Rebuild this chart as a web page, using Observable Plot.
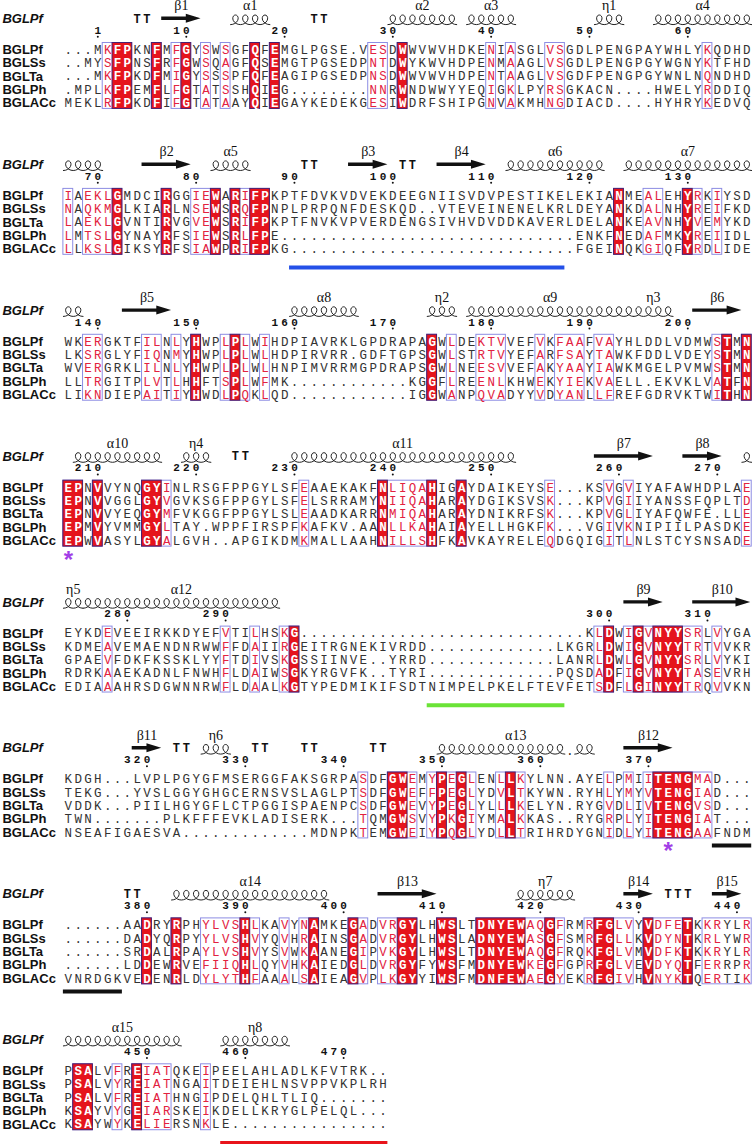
<!DOCTYPE html>
<html>
<head>
<meta charset="utf-8">
<script src="https://cdn.jsdelivr.net/npm/d3@7"></script>
<script src="https://cdn.jsdelivr.net/npm/@observablehq/plot@0.6"></script>
<style>
  html, body { margin: 0; padding: 0; background: #fff; }
  #chart svg { display: block; }
</style>
</head>
<body>
<div id="chart"></div>
<script>
// ---------------- DATA ----------------
const seqNames = ["BGLPf", "BGLSs", "BGLTa", "BGLPh", "BGLACc"];

const block1 = [
  "...MKFPKNFMFGYSWSGFQFEMGLPGSE.VESDWWVWVHDKENIASGLVSGDLPENGPAYWHLYKQDHD",
  "..MYSFPNSFRFGWSQAGFQSEMGTPGSEDPNTDWYKWVHDPENMAAGLVSGDLPENGPGYWGNYKTFHD",
  "...MKFPKDFMIGYSSSPFQFEAGIPGSEDPNSDWWVWVHDPENTAAGLVSGDFPENGPGYWNLNQNDHD",
  ".MPLKFPEMFLFGTATSSHQIEG........NNRWNDWWYYEQIGKLPYRSGKACN....HWELYRDDIQ",
  "MEKLRFPKDFIFGTATAAYQIEGAYKEDEKGESIWDRFSHIPGNVAKMHNGDIACD....HYHRYKEDVQ"
];
const block2 = [
  "IAEKLGMDCIRGGIEWARIFPKPTFDVKVDVEKDEEGNIISVDVPESTIKELEKIANMEALEHYRKIYSD",
  "NAQKMGLKIARLNSEWSRQFPNPLPRPQNFDESKQD..VTEVEINENELKRLDEYANKDALNHYREIFKD",
  "LAEKLGVNTIRVGVEWSRIFPKPTFNVKVPVERDENGSIVHVDVDDKAVERLDELANKEAVNHYVEMYKD",
  "LMTSLGYNAYRFSIEWSRLFPE..............................ENKFNEDAFMKYREIIDL",
  "LLKSLGIKSYRFSIAWPRIFPKG.............................FGEINQKGIQFYRDLIDE"
];
const block3 = [
  "WKERGKTFILNLYHWPLPLWIHDPIAVRKLGPDRAPAGWLDEKTVVEFVKFAAFVAYHLDDLVDMWSTMN",
  "LKSRGLYFIQNMYHWPLPLWLHDPIRVRR.GDFTGPSGWLSTRTVYEFARFSAYTAWKFDDLVDEYSTMN",
  "WVERGRKLILNLYHWPLPLWLHNPIMVRRMGPDRAPSGWLNEESVVEFAKYAAYIAWKMGELPVMWSTMN",
  "LLTRGITPLVTLHHFTSPLWFMK............KGGFLREENLKHWEKYIEKVAELL.EKVKLVATFN",
  "LIKNDIEPAITIYHWDLPQKLQD............IGGWANPQVADYYVDYANLLFREFGDRVKTWITHN"
];
const block4 = [
  "EPNVVYNQGYINLRSGFPPGYLSFEAAEKAKFNLIQAHIGAYDAIKEYSE...KSVGVIYAFAWHDPLAE",
  "EPNVVGGLGYVGVKSGFPPGYLSFELSRRAMYNIIQAHARAYDGIKSVSK...KPVGIIYANSSFQPLTD",
  "EPNVVYEQGYMFVKGGFPPGYLSLEAADKARRNMIQAHARAYDNIKRFSK...KPVGLIYAFQWFE.LLE",
  "EPMVYVMMGYLTAY.WPPFIRSPFKAFKV.AANLLKAHAIAYELLHGKFK...VGIVKNIPIILPASDKE",
  "EPWVASYLGYALGVH..APGIKDMKMALLAAHNILLSHFKAVKAYRELEQDGQIGITLNLSTCYSNSADE"
];
const block5 = [
  "EYKDEVEEIRKKDYEFVTILHSKG.............................KLDWIGVNYYSRLVYGA",
  "KDMEAVEMAENDNRWWFFDAIIRGEITRGNEKIVRDD.............LKGRLDWIGVNYYTRTVVKR",
  "GPAEVFDKFKSSKLYYFTDIVSKGSSIINVE..YRRD.............LANRLDWLGVNYYSRLVYKI",
  "RDRKAAEKADNLFNWHFLDAIWSGKYRGVFK..TYRI.............PQSDADFIGVNYYTASEVRH",
  "EDIAAAHRSDGWNNRWFLDAALKGTYPEDMIKIFSDTNIMPELPKELFTEVFETSDFLGINYYTRQVVKN"
];
const block6 = [
  "KDGH...LVPLPGYGFMSERGGFAKSGRPASDFGWEMYPEGLENLLKYLNN.AYELPMIITENGMAD...",
  "TEKG...YVSLGGYGHGCERNSVSLAGLPTSDFGWEFFPEGLYDVLTKYWN.RYHLYMYVTENGIAD...",
  "VDDK...PIILHGYGFLCTPGGISPAENPCSDFGWEVYPEGLYLLLKELYN.RYGVDLIVTENGVSD...",
  "TWN.......PLKFFFEVKLADISERK...TQMGWSVYPKGIYMALKKAS..RYGRPLYITENGIAT...",
  "NSEAFIGAESVA.............MDNPKTEMGWEIYPQGLYDLLTRIHRDYGNIDLYITENGAAFNDM"
];
const block7 = [
  "......AADRYRPHYLVSHLKAVYNAMKEGADVRGYLHWSLTDNYEWAQGFRMRFGLVYVDFETKKRYLR",
  "......DADYQRPYYLVSHVYQVHRAINSGADVRGYLHWSLADNYEWASGFSMRFGLLKVDYNTKRLYWR",
  "......SRDALRPAYLVSHVYSVWKAANEGIPVKGYLHWSLTDNYEWAQGFRQKFGLVMVDFKTKKRYLR",
  "......LDDEWRVEFIIQHLQYVHKAIEDGLDVRGYFYWSFMDNYEWKEGFGPRFGLVEVDYQTFERRPR",
  "VNRDGKVEDENRLDYLYTHFAAALSAIEAGVPLKGYYIWSFMDNFEWAEGYEKRFGIVHVNYKTQERTIK"
];
const block8 = [
  "PSALVFREIATQKEIPEELAHLADLKFVTRK..",
  "PSALVYREIATNGAITDEIEHLNSVPPVKPLRH",
  "PSALVFREIATHNGIPDELQHLTLIQ.......",
  "KSAYVYGEIARSKEIKDELLKRYGLPELQL...",
  "KSAYWYKELIERSNKLE................"
];

// conservation per column: R = strictly conserved (red box), f = similar (framed), . = none
const frame1 = "....fRR..R.fR.f.f..R.R.........ff.R........f.f...ff..............f....";
const frame2 = "f.fffR....R..ffR.RfRR...................................R..ff..Rf.f...";
const frame3 = "..ff....ff.f.R..fRf.f................R.f..fff...f.fff.ff..........fR.R";
const frame4 = "RR.R....RRf.............f.......RffffR..R........f.....f.f...........f";
const frame5 = "....f...........f..f..fR..............................fR.fRfRRRff.f...";
const frame6 = "..............................f..RRf.fRfRf..fRf........f.f.fRRRRff....";
const frame7 = "........R..R..ffffRf..f.fR...Rf.ffRR..RR..RRRRRffRf..fRRff.RfffR.fffff";
const frame8 = ".RR..f.Rfff...f..................";

// letters left black inside a framed region
const plainInFrame = [{block: 6, col: 68}, {block: 6, col: 69}];

// secondary structure of BGLPf (block index, first column, last column)
const helices = [
  {block: 0, start: 18, end: 21, label: "α1"},
  {block: 0, start: 34, end: 40, label: "α2"},
  {block: 0, start: 42, end: 46, label: "α3"},
  {block: 0, start: 55, end: 57, label: "η1"},
  {block: 0, start: 61, end: 70, label: "α4"},
  {block: 1, start: 1, end: 4, label: ""},
  {block: 1, start: 16, end: 19, label: "α5"},
  {block: 1, start: 46, end: 55, label: "α6"},
  {block: 1, start: 58, end: 70, label: "α7"},
  {block: 2, start: 1, end: 2, label: ""},
  {block: 2, start: 24, end: 30, label: "α8"},
  {block: 2, start: 38, end: 40, label: "η2"},
  {block: 2, start: 42, end: 58, label: "α9"},
  {block: 2, start: 59, end: 62, label: "η3"},
  {block: 3, start: 2, end: 10, label: "α10"},
  {block: 3, start: 13, end: 15, label: "η4"},
  {block: 3, start: 24, end: 46, label: "α11"},
  {block: 3, start: 70, end: 70, label: ""},
  {block: 4, start: 1, end: 2, label: "η5"},
  {block: 4, start: 3, end: 22, label: "α12"},
  {block: 5, start: 15, end: 17, label: "η6"},
  {block: 5, start: 39, end: 54, label: "α13"},
  {block: 6, start: 12, end: 27, label: "α14"},
  {block: 6, start: 47, end: 52, label: "η7"},
  {block: 7, start: 1, end: 12, label: "α15"},
  {block: 7, start: 17, end: 23, label: "η8"}
];
const strands = [
  {block: 0, start: 11, end: 14, label: "β1"},
  {block: 1, start: 9, end: 13, label: "β2"},
  {block: 1, start: 30, end: 33, label: "β3"},
  {block: 1, start: 39, end: 43, label: "β4"},
  {block: 2, start: 7, end: 11, label: "β5"},
  {block: 2, start: 65, end: 69, label: "β6"},
  {block: 3, start: 55, end: 60, label: "β7"},
  {block: 3, start: 64, end: 67, label: "β8"},
  {block: 4, start: 58, end: 61, label: "β9"},
  {block: 4, start: 65, end: 70, label: "β10"},
  {block: 5, start: 8, end: 10, label: "β11"},
  {block: 5, start: 58, end: 62, label: "β12"},
  {block: 6, start: 33, end: 38, label: "β13"},
  {block: 6, start: 58, end: 60, label: "β14"},
  {block: 6, start: 67, end: 69, label: "β15"}
];
const turns = [
  {block: 0, col: 8, text: "TT"},
  {block: 0, col: 26, text: "TT"},
  {block: 1, col: 25, text: "TT"},
  {block: 1, col: 35, text: "TT"},
  {block: 3, col: 18, text: "TT"},
  {block: 5, col: 12, text: "TT"},
  {block: 5, col: 20, text: "TT"},
  {block: 5, col: 25, text: "TT"},
  {block: 5, col: 32, text: "TT"},
  {block: 6, col: 7, text: "TT"},
  {block: 6, col: 62, text: "TTT"}
];
// insertion / region bars under the alignment
const insertions = [
  {block: 1, start: 24, end: 51, kind: "blue"},
  {block: 4, start: 38, end: 51, kind: "green"},
  {block: 5, start: 67, end: 70, kind: "black"},
  {block: 6, start: 1, end: 6, kind: "black"},
  {block: 7, start: 17, end: 33, kind: "red"}
];
// catalytic residues
const stars = [{block: 3, col: 1}, {block: 5, col: 62}];

// ---------------- LAYOUT / STYLE ----------------
const blockSeqs = [block1, block2, block3, block4, block5, block6, block7, block8];
const blockFrames = [frame1, frame2, frame3, frame4, frame5, frame6, frame7, frame8];

const ROW0 = 49.3, BLOCK_STEP = 145.9, ROW_STEP = 13.33;
const rowY = (b, r) => ROW0 + b * BLOCK_STEP + r * ROW_STEP;
const NAME_X = -5.7;          // in column units
const MONO = "'Liberation Mono', 'DejaVu Sans Mono', monospace";
const SANS = "'Liberation Sans', Arial, sans-serif";
const SERIF = "'Liberation Serif', 'Times New Roman', serif";
const INK = "#333333", RED_BG = "#e5141c", RED_TXT = "#e2223f", FRAME = "#8d8de3", RED_EDGE = "#4a2070";
const STAR = "#a23ee6";
const lineColor = {blue: "#2450e8", green: "#6be337", black: "#111111", red: "#e8141b"};

// cells
const plainCells = [], boldCells = [];
blockSeqs.forEach((rows, b) => {
  const fr = blockFrames[b];
  rows.forEach((s, r) => {
    [...s].forEach((ch, i) => {
      const c = i + 1, f = fr[i];
      const cell = {c, ch, y: rowY(b, r)};
      if (f === "R") boldCells.push(cell);
      else {
        const plain = plainInFrame.some(p => p.block === b && p.col === c);
        cell.color = (f === "f" && ch !== "." && !plain) ? RED_TXT : INK;
        plainCells.push(cell);
      }
    });
  });
});

function runs(str, test) {
  const out = []; let s = null;
  for (let i = 0; i <= str.length; i++) {
    const ok = i < str.length && test(str[i]);
    if (ok && s === null) s = i + 1;
    if (!ok && s !== null) { out.push([s, i]); s = null; }
  }
  return out;
}
const frameRects = [], redRects = [];
blockFrames.forEach((fr, b) => {
  const y1 = rowY(b, 0) - 6.8, y2 = rowY(b, 4) + 5.8;
  runs(fr, ch => ch !== ".").forEach(([s, e]) => frameRects.push({x1: s - 0.5, x2: e + 0.5, y1, y2}));
  runs(fr, ch => ch === "R").forEach(([s, e]) => redRects.push({x1: s - 0.5, x2: e + 0.5, y1, y2}));
});

const nameCells = blockSeqs.flatMap((rows, b) => rows.map((_, r) => ({x: NAME_X, y: rowY(b, r), text: seqNames[r]})));
const headers = blockSeqs.map((_, b) => ({x: NAME_X, y: rowY(b, 0) - 31, text: seqNames[0]}));

// residue numbering of BGLPf
const digits = [], numDots = [];
let resNo = 0;
blockSeqs.forEach((rows, b) => {
  [...rows[0]].forEach((ch, i) => {
    if (ch === ".") return;
    resNo++;
    if (resNo === 1 || resNo % 10 === 0) {
      const txt = String(resNo);
      [...txt].forEach((d, k) => digits.push({x: i + 1 - (txt.length - 1 - k), y: rowY(b, 0) - 19.6, d}));
      numDots.push({x: i + 1, y: rowY(b, 0) - 13});
    }
  });
});

// helix coils
const helixPts = [], helixGaps = [];
const A = 0.5, B = 4.8, STEPS = 18;
helices.forEach((h, i) => {
  const seq = blockSeqs[h.block][0];
  const yc = rowY(h.block, 0) - 30;
  let seg = 0;
  for (let c = h.start; c <= h.end; c++) {
    if (seq[c - 1] === ".") { helixGaps.push({x: c, y: yc + 2}); seg++; continue; }
    for (let k = 0; k <= STEPS; k++) {
      const t = k / STEPS;
      helixPts.push({x: c - 0.5 + t + A * Math.sin(2 * Math.PI * t), y: yc + B * Math.cos(2 * Math.PI * t), z: i + "-" + seg});
    }
  }
});

// strand arrows
const strandPts = [];
strands.forEach((s, i) => {
  const yA = rowY(s.block, 0) - 31;
  const x0 = s.start - 0.5, xt = Math.min(s.end + 0.5, 70.4), xh = xt - 1.5;
  strandPts.push(
    {z: i, x: x0, y1: yA - 1.7, y2: yA + 1.7},
    {z: i, x: xh, y1: yA - 1.7, y2: yA + 1.7},
    {z: i, x: xh, y1: yA - 4.5, y2: yA + 4.5},
    {z: i, x: xt, y1: yA, y2: yA}
  );
});

const ssLabels = [...helices, ...strands].filter(d => d.label)
  .map(d => ({x: (d.start + d.end) / 2, y: rowY(d.block, 0) - 44, text: d.label}));

const turnChars = [];
turns.forEach(t => [...t.text].forEach((ch, k) => turnChars.push({x: t.col + k, y: rowY(t.block, 0) - 31, ch})));

const insertionRules = insertions.map(d => ({
  x1: d.start - 0.5, x2: Math.min(d.end + 0.5, 70.6),
  y: rowY(d.block, 4) + (d.kind === "black" ? 13 : 18.5),
  color: lineColor[d.kind]
}));
const starMarks = stars.map(s => ({x: s.col, y: rowY(s.block, 4) + 19}));

// ---------------- PLOT ----------------
const chart = Plot.plot({
  width: 752,
  height: 1144,
  margin: 0,
  style: {background: "#fff"},
  x: {domain: [1, 70], range: [67.8, 746.3], axis: null},
  y: {domain: [0, 1144], range: [0, 1144], axis: null},
  color: {type: "identity"},
  marks: [
    Plot.rect(frameRects, {x1: "x1", x2: "x2", y1: "y1", y2: "y2", fill: "none", stroke: FRAME, strokeWidth: 1}),
    Plot.rect(redRects, {x1: "x1", x2: "x2", y1: "y1", y2: "y2", fill: RED_BG, stroke: RED_EDGE, strokeWidth: 1}),
    Plot.text(plainCells, {x: "c", y: "y", text: "ch", fill: "color", fontFamily: MONO, fontSize: 12.5}),
    Plot.text(boldCells, {x: "c", y: "y", text: "ch", fill: "white", fontFamily: MONO, fontSize: 12.5, fontWeight: "bold"}),
    Plot.text(nameCells, {x: "x", y: "y", text: "text", textAnchor: "start", fontFamily: SANS, fontWeight: "bold", fontSize: 13, fill: "#111"}),
    Plot.text(headers, {x: "x", y: "y", text: "text", textAnchor: "start", fontFamily: SANS, fontWeight: "bold", fontStyle: "italic", fontSize: 13, fill: "#111"}),
    Plot.text(digits, {x: "x", y: "y", text: "d", fontFamily: MONO, fontWeight: "bold", fontSize: 11, fill: "#111"}),
    Plot.dot(numDots, {x: "x", y: "y", r: 1, fill: "#111"}),
    Plot.line(helixPts, {x: "x", y: "y", z: "z", stroke: "#222", strokeWidth: 1, curve: "linear"}),
    Plot.text(helixGaps, {x: "x", y: "y", text: () => ".", fontFamily: MONO, fontSize: 12, fill: "#222"}),
    Plot.areaY(strandPts, {x: "x", y1: "y1", y2: "y2", z: "z", fill: "#111", curve: "linear"}),
    Plot.text(turnChars, {x: "x", y: "y", text: "ch", fontFamily: MONO, fontWeight: "bold", fontSize: 12, fill: "#111"}),
    Plot.text(ssLabels, {x: "x", y: "y", text: "text", fontFamily: SERIF, fontSize: 14, fill: "#111"}),
    Plot.ruleY(insertionRules, {x1: "x1", x2: "x2", y: "y", stroke: "color", strokeWidth: 4}),
    Plot.text(starMarks, {x: "x", y: "y", text: () => "*", fill: STAR, fontSize: 24, fontWeight: "bold", fontFamily: SANS})
  ]
});
document.getElementById("chart").appendChild(chart);
</script>
</body>
</html>
